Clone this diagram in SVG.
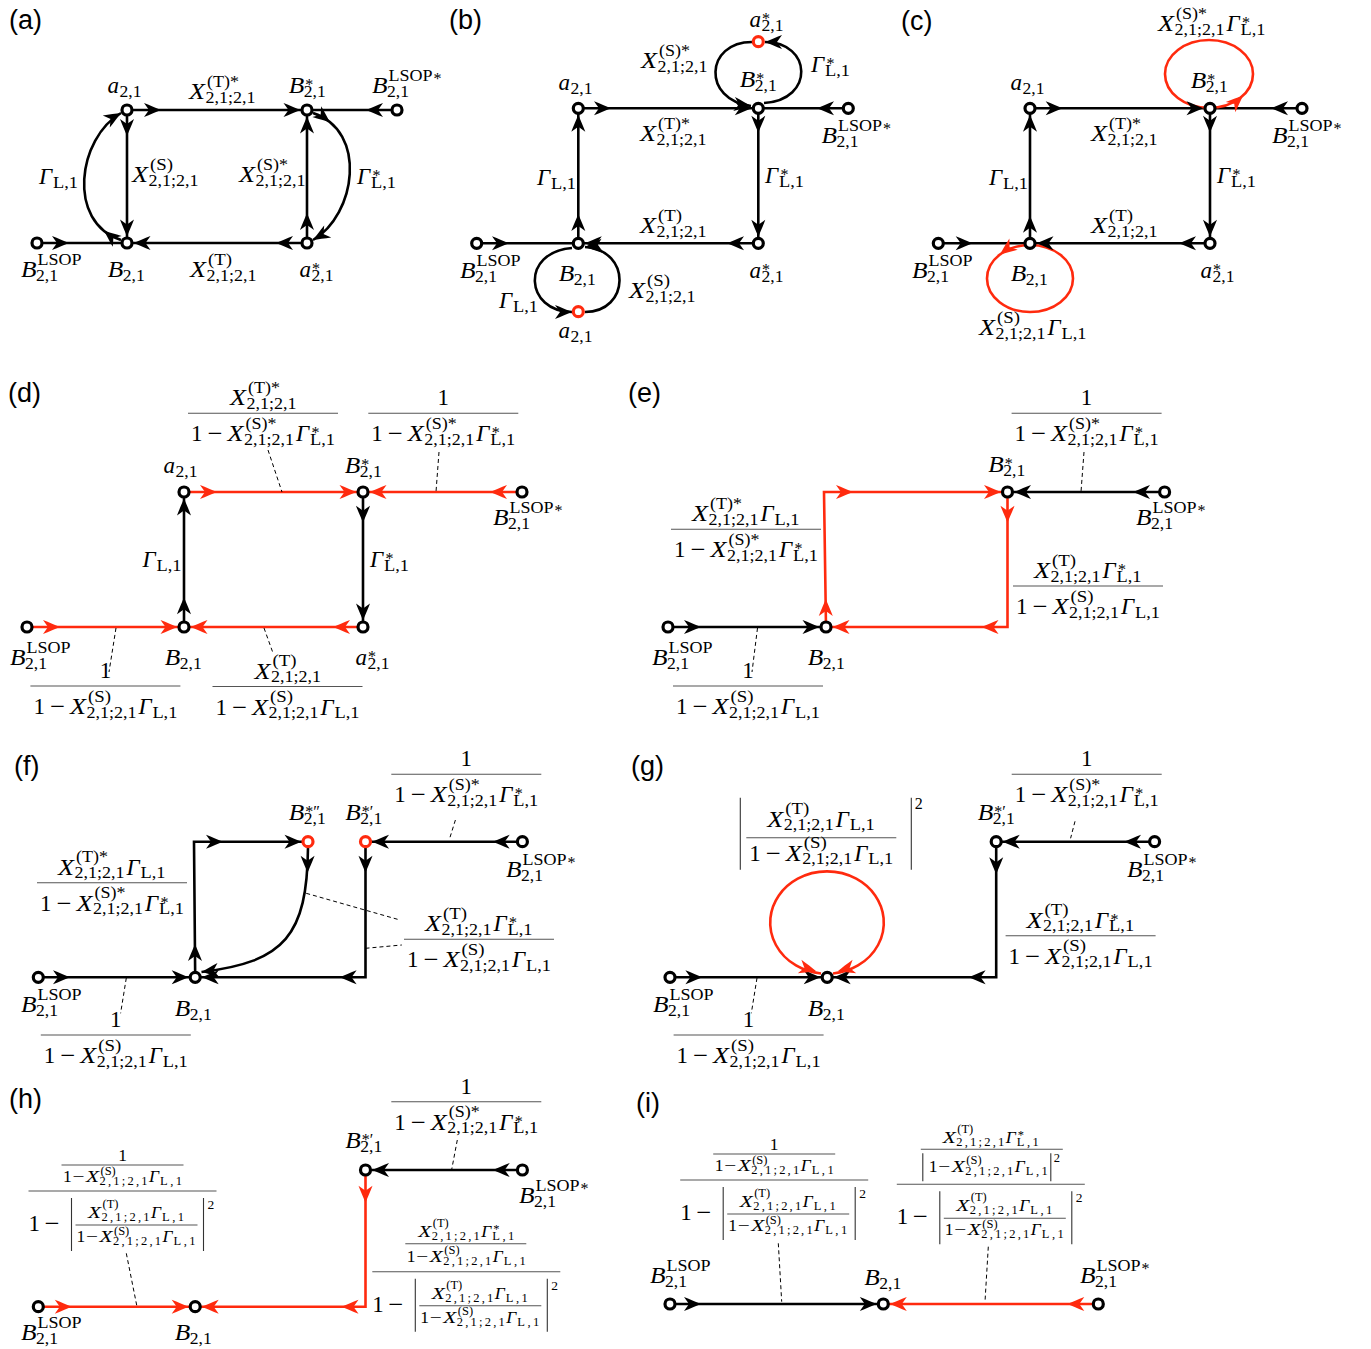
<svg xmlns="http://www.w3.org/2000/svg" width="1371" height="1349" viewBox="0 0 1371 1349">
<style>
.m{font-family:"Liberation Serif",serif;font-style:italic;font-size:23px}
.u{font-family:"Liberation Serif",serif;font-size:23px}
.s{font-family:"Liberation Serif",serif;font-size:16px}
.sm{font-family:"Liberation Serif",serif;font-style:italic;font-size:17.5px}
.su{font-family:"Liberation Serif",serif;font-size:17.5px}
.ss{font-family:"Liberation Serif",serif;font-size:12.5px}
.pl{font-family:"Liberation Sans",Arial,sans-serif;font-size:27px}
.e{fill:none;stroke:#000;stroke-width:2.6}
.er{fill:none;stroke:#ff2a0e;stroke-width:2.6}
.n{fill:#fff;stroke:#000;stroke-width:3.2}
.nr{fill:#fff;stroke:#ff2a0e;stroke-width:3.2}
.d{fill:none;stroke:#000;stroke-width:1;stroke-dasharray:4 3}
.fb{stroke:#555;stroke-width:1.1}
.ab{stroke:#333;stroke-width:1.1}
.k{fill:#000}
.r{fill:#ff2a0e}
</style>
<defs>
<path id="ah" d="M0,0 C-4.5,-1.8 -11,-4.8 -17,-7 L-12,0 L-17,7 C-11,4.8 -4.5,1.8 0,0 Z"/>
<text id="X" class="m" textLength="16" lengthAdjust="spacingAndGlyphs">X</text>
<text id="B" class="m" textLength="15.5" lengthAdjust="spacingAndGlyphs">B</text>
<text id="s4" class="s" y="3.5" textLength="50" lengthAdjust="spacingAndGlyphs">2,1;2,1</text>
<text id="s2" class="s" y="3.5" textLength="22" lengthAdjust="spacingAndGlyphs">2,1</text>
<text id="sL" class="s" y="3.5" textLength="25" lengthAdjust="spacingAndGlyphs">L,1</text>
<text id="pTs" class="s" y="-12.5" textLength="32" lengthAdjust="spacingAndGlyphs">(T)*</text>
<text id="pT" class="s" y="-12.5" textLength="24" lengthAdjust="spacingAndGlyphs">(T)</text>
<text id="pS" class="s" y="-12.5" textLength="23" lengthAdjust="spacingAndGlyphs">(S)</text>
<text id="pSs" class="s" y="-12.5" textLength="31" lengthAdjust="spacingAndGlyphs">(S)*</text>
<text id="st" class="s" y="-3">*</text>
<text id="pL" class="s" y="-12.5" textLength="44" lengthAdjust="spacingAndGlyphs">LSOP</text>
<g id="xTs"><use href="#X"/><use href="#pTs" x="18"/><use href="#s4" x="16.5"/></g>
<g id="xT"><use href="#X"/><use href="#pT" x="18"/><use href="#s4" x="16.5"/></g>
<g id="xS"><use href="#X"/><use href="#pS" x="18"/><use href="#s4" x="16.5"/></g>
<g id="xSs"><use href="#X"/><use href="#pSs" x="18"/><use href="#s4" x="16.5"/></g>
<g id="g"><text class="m">Γ</text><use href="#sL" x="14"/></g>
<g id="gs"><text class="m">Γ</text><use href="#st" x="15.5"/><use href="#sL" x="14"/></g>
<g id="la"><text class="m">a</text><use href="#s2" x="12"/></g>
<g id="las"><text class="m">a</text><use href="#st" x="12.5"/><use href="#s2" x="12"/></g>
<g id="lB"><use href="#B"/><use href="#s2" x="15"/></g>
<g id="lBs"><use href="#B"/><use href="#st" x="16.5"/><use href="#s2" x="15"/></g>
<g id="lBp"><use href="#B"/><text class="s" x="16.5" y="-3">*′</text><use href="#s2" x="15"/></g>
<g id="lBpp"><use href="#B"/><text class="s" x="16.5" y="-3">*″</text><use href="#s2" x="15"/></g>
<g id="lBL"><use href="#B"/><use href="#pL" x="16.5"/><use href="#s2" x="15"/></g>
<g id="lBLs"><use href="#B"/><use href="#pL" x="16.5"/><text class="s" x="61.5" y="-9">*</text><use href="#s2" x="15"/></g>
<g id="XSG"><use href="#xS"/><use href="#g" x="68.5"/></g>
<g id="XSsGs"><use href="#xSs"/><use href="#gs" x="68.5"/></g>
<g id="XTsG"><use href="#xTs"/><use href="#g" x="68.5"/></g>
<g id="XTGs"><use href="#xT"/><use href="#gs" x="68.5"/></g>
<g id="XTG"><use href="#xT"/><use href="#g" x="68.5"/></g>
<text id="one" class="u">1</text>
<text id="mn" class="u" textLength="15" lengthAdjust="spacingAndGlyphs">−</text>
<g id="dS"><use href="#one"/><use href="#mn" x="16.5"/><use href="#xS" x="36.5"/><use href="#g" x="105"/></g>
<g id="dSs"><use href="#one"/><use href="#mn" x="16.5"/><use href="#xSs" x="36.5"/><use href="#gs" x="105"/></g>
<g id="F1"><line class="fb" x1="-75" x2="75"/><text class="u" y="-8" text-anchor="middle">1</text><use href="#dS" x="-72" y="28"/></g>
<g id="F1s"><line class="fb" x1="-75" x2="75"/><text class="u" y="-8" text-anchor="middle">1</text><use href="#dSs" x="-72" y="28"/></g>
<g id="F2"><line class="fb" x1="-75" x2="75"/><use href="#xTs" x="-33" y="-8"/><use href="#dSs" x="-72" y="28"/></g>
<g id="F3"><line class="fb" x1="-75" x2="75"/><use href="#xT" x="-33" y="-8"/><use href="#dS" x="-72" y="28"/></g>
<g id="F4"><line class="fb" x1="-75" x2="75"/><use href="#XTsG" x="-54" y="-8"/><use href="#dSs" x="-72" y="28"/></g>
<g id="F5"><line class="fb" x1="-75" x2="75"/><use href="#XTGs" x="-54" y="-8"/><use href="#dS" x="-72" y="28"/></g>
<g id="G1"><line class="fb" x1="-75" x2="75"/><use href="#XTG" x="-54" y="-11"/><use href="#dS" x="-72" y="23"/><line class="ab" x1="-81" y1="-40" x2="-81" y2="32"/><line class="ab" x1="90" y1="-40" x2="90" y2="32"/><text class="s" x="93.5" y="-29">2</text></g>
<text id="sX" class="sm" textLength="13" lengthAdjust="spacingAndGlyphs">X</text>
<text id="ss4" class="ss" y="3" textLength="48" lengthAdjust="spacing">2,1;2,1</text>
<text id="ssL" class="ss" y="3" textLength="22" lengthAdjust="spacing">L,1</text>
<g id="sxT"><use href="#sX"/><text class="ss" x="14.5" y="-10">(T)</text><use href="#ss4" x="13.5"/></g>
<g id="sxS"><use href="#sX"/><text class="ss" x="14.5" y="-7.5">(S)</text><use href="#ss4" x="13.5"/></g>
<g id="sg"><text class="sm">Γ</text><use href="#ssL" x="11"/></g>
<g id="sgs"><text class="sm">Γ</text><text class="ss" x="12" y="-4">*</text><use href="#ssL" x="11"/></g>
<g id="sN"><use href="#sxT"/><use href="#sg" x="63"/></g>
<g id="sNs"><use href="#sxT"/><use href="#sgs" x="63"/></g>
<g id="sD"><text class="su">1</text><text class="su" x="9.5" textLength="12" lengthAdjust="spacingAndGlyphs">−</text><use href="#sxS" x="23"/><use href="#sg" x="86"/></g>
<g id="Dabs"><use href="#one" x="-94" y="40"/><use href="#mn" x="-78" y="40"/><line class="ab" x1="-51" y1="7" x2="-51" y2="60"/><use href="#sN" x="-34.5" y="27"/><line class="fb" x1="-47" y1="34" x2="75" y2="34"/><use href="#sD" x="-46" y="51"/><line class="ab" x1="81" y1="7" x2="81" y2="60"/><text class="s" x="85" y="18" style="font-size:13.5px">2</text></g>
<g id="H1"><line class="fb" x1="-94" x2="94"/><text class="su" y="-30" text-anchor="middle">1</text><line class="fb" x1="-61" y1="-26" x2="61" y2="-26"/><use href="#sD" x="-59.5" y="-9"/><use href="#Dabs"/></g>
<g id="H2"><line class="fb" x1="-94" x2="94"/><use href="#sNs" x="-48" y="-35"/><line class="fb" x1="-61" y1="-28" x2="60" y2="-28"/><use href="#sD" x="-59.5" y="-10"/><use href="#Dabs"/></g>
<g id="I2"><line class="fb" x1="-94" x2="94"/><use href="#sNs" x="-48" y="-41"/><line class="fb" x1="-70" y1="-35" x2="72" y2="-35"/><line class="ab" x1="-68" y1="-31" x2="-68" y2="-3"/><use href="#sD" x="-62" y="-12.5"/><line class="ab" x1="60" y1="-31" x2="60" y2="-3"/><text class="ss" x="63" y="-22">2</text><use href="#Dabs"/></g>
</defs>
<rect width="1371" height="1349" fill="#fff"/>
<g id="panel-labels">
<text class="pl" x="9" y="29">(a)</text>
<text class="pl" x="449" y="29">(b)</text>
<text class="pl" x="901" y="30">(c)</text>
<text class="pl" x="8" y="402">(d)</text>
<text class="pl" x="628" y="402">(e)</text>
<text class="pl" x="14" y="775">(f)</text>
<text class="pl" x="631" y="775">(g)</text>
<text class="pl" x="9" y="1108">(h)</text>
<text class="pl" x="636" y="1112">(i)</text>
</g>
<g id="connectors">
<!-- (a) -->
<path class="e" d="M37 243H127M127 110H307M397 110H307M127 110V243M307 243V110M307 243H127"/>
<path class="e" d="M121 240C66 222 78 138 121 113"/>
<path class="e" d="M313 113C368 131 356 215 313 240"/>
<use href="#ah" class="k" transform="translate(69 243)"/>
<use href="#ah" class="k" transform="translate(161 110)"/>
<use href="#ah" class="k" transform="translate(300.5 110)"/>
<use href="#ah" class="k" transform="translate(366 110) rotate(180)"/>
<use href="#ah" class="k" transform="translate(127 136) rotate(90)"/>
<use href="#ah" class="k" transform="translate(127 236.5) rotate(90)"/>
<use href="#ah" class="k" transform="translate(307 213) rotate(-90)"/>
<use href="#ah" class="k" transform="translate(307 116.5) rotate(-90)"/>
<use href="#ah" class="k" transform="translate(276 243) rotate(180)"/>
<use href="#ah" class="k" transform="translate(133.5 243) rotate(180)"/>
<use href="#ah" class="k" transform="translate(104 230.7) rotate(-141)"/>
<use href="#ah" class="k" transform="translate(121 113) rotate(-30)"/>
<use href="#ah" class="k" transform="translate(330 122.3) rotate(39)"/>
<use href="#ah" class="k" transform="translate(313 240) rotate(150)"/>
<use href="#xTs" x="189" y="99"/>
<use href="#xS" x="132" y="182"/>
<use href="#g" x="39" y="184"/>
<use href="#xSs" x="239" y="182"/>
<use href="#gs" x="357" y="184"/>
<use href="#xT" x="190" y="277"/>
<!-- (b) -->
<path class="e" d="M476.7 243.3H578.3M578.3 108.3H758.3M848.3 108.3H758.3M758.3 108.3V243.3M758.3 243.3H578.3M578.3 243.3V108.3"/>
<path class="e" d="M572 248C520 252 525 312 572 312"/>
<path class="e" d="M585 312C630 312 632 250 585 247"/>
<path class="e" d="M764 103C815 100 812 42 765 42"/>
<path class="e" d="M752 42C705 42 702 100 751 106"/>
<use href="#ah" class="k" transform="translate(509 243.3)"/>
<use href="#ah" class="k" transform="translate(611 108.3)"/>
<use href="#ah" class="k" transform="translate(751.8 108.3)"/>
<use href="#ah" class="k" transform="translate(817 108.3) rotate(180)"/>
<use href="#ah" class="k" transform="translate(758.3 132.7) rotate(90)"/>
<use href="#ah" class="k" transform="translate(758.3 236.8) rotate(90)"/>
<use href="#ah" class="k" transform="translate(727 243.3) rotate(180)"/>
<use href="#ah" class="k" transform="translate(584.8 243.3) rotate(180)"/>
<use href="#ah" class="k" transform="translate(578.3 214) rotate(-90)"/>
<use href="#ah" class="k" transform="translate(578.3 114.8) rotate(-90)"/>
<use href="#ah" class="k" transform="translate(572 312)"/>
<use href="#ah" class="k" transform="translate(585 247) rotate(176)"/>
<use href="#ah" class="k" transform="translate(765 42) rotate(180)"/>
<use href="#ah" class="k" transform="translate(751 106) rotate(7)"/>
<use href="#xSs" x="641" y="68"/>
<use href="#gs" x="811" y="72"/>
<use href="#xTs" x="640" y="141"/>
<use href="#g" x="537" y="185"/>
<use href="#gs" x="765" y="183"/>
<use href="#xT" x="640" y="233"/>
<use href="#xS" x="629" y="298"/>
<use href="#g" x="499" y="308"/>
<!-- (c) -->
<path class="e" d="M938.3 243.3H1030M1030 108.3H1210M1302 108.3H1210M1210 108.3V243.3M1210 243.3H1030M1030 243.3V108.3"/>
<ellipse class="er" cx="1209" cy="74" rx="44" ry="34"/>
<ellipse class="er" cx="1030" cy="278.5" rx="43" ry="33.5"/>
<use href="#ah" class="k" transform="translate(972.7 243.3)"/>
<use href="#ah" class="k" transform="translate(1062.7 108.3)"/>
<use href="#ah" class="k" transform="translate(1203.5 108.3)"/>
<use href="#ah" class="k" transform="translate(1271 108.3) rotate(180)"/>
<use href="#ah" class="k" transform="translate(1210 132.7) rotate(90)"/>
<use href="#ah" class="k" transform="translate(1210 236.8) rotate(90)"/>
<use href="#ah" class="k" transform="translate(1179 243.3) rotate(180)"/>
<use href="#ah" class="k" transform="translate(1036.5 243.3) rotate(180)"/>
<use href="#ah" class="k" transform="translate(1030 215.7) rotate(-90)"/>
<use href="#ah" class="k" transform="translate(1030 114.8) rotate(-90)"/>
<use href="#ah" class="r" transform="translate(1243 95.6) rotate(-43)"/>
<use href="#ah" class="r" transform="translate(1000 254.4) rotate(143)"/>
<use href="#XSsGs" x="1158" y="31"/>
<use href="#xTs" x="1091" y="141"/>
<use href="#g" x="989" y="185"/>
<use href="#gs" x="1217" y="183"/>
<use href="#xT" x="1091" y="233"/>
<use href="#XSG" x="979" y="335"/>
<!-- (d) -->
<path class="er" d="M27 627H184M184 492H363M522 492H363M363 627H184"/>
<path class="e" d="M184 627V492M363 492V627"/>
<path class="d" d="M268 450L282 492M439 452L436 492M116 628L109 672M264 628L273 653"/>
<use href="#ah" class="r" transform="translate(60 627)"/>
<use href="#ah" class="r" transform="translate(177.5 627)"/>
<use href="#ah" class="r" transform="translate(217 492)"/>
<use href="#ah" class="r" transform="translate(356.5 492)"/>
<use href="#ah" class="r" transform="translate(490 492) rotate(180)"/>
<use href="#ah" class="r" transform="translate(369.5 492) rotate(180)"/>
<use href="#ah" class="r" transform="translate(333 627) rotate(180)"/>
<use href="#ah" class="r" transform="translate(190.5 627) rotate(180)"/>
<use href="#ah" class="k" transform="translate(184 597.3) rotate(-90)"/>
<use href="#ah" class="k" transform="translate(184 498.5) rotate(-90)"/>
<use href="#ah" class="k" transform="translate(363 522.7) rotate(90)"/>
<use href="#ah" class="k" transform="translate(363 620.5) rotate(90)"/>
<use href="#g" x="142.5" y="567"/>
<use href="#gs" x="370" y="567"/>
<use href="#F2" x="263" y="413.3"/>
<use href="#F1s" x="443.3" y="413.3"/>
<use href="#F1" x="105.4" y="686"/>
<use href="#F3" x="287.5" y="686.5"/>
<!-- (e) -->
<path class="er" d="M826 627L824 492H1007.5M1007.5 492V627H826"/>
<path class="e" d="M668 627H826M1164.6 492H1007.5"/>
<path class="d" d="M1084 452L1081 492M757.5 628L752 672"/>
<use href="#ah" class="r" transform="translate(825.8 599) rotate(-90)"/>
<use href="#ah" class="r" transform="translate(853 492)"/>
<use href="#ah" class="r" transform="translate(1001 492)"/>
<use href="#ah" class="r" transform="translate(1007.5 522.7) rotate(90)"/>
<use href="#ah" class="r" transform="translate(981.5 627) rotate(180)"/>
<use href="#ah" class="r" transform="translate(832.5 627) rotate(180)"/>
<use href="#ah" class="k" transform="translate(701 627)"/>
<use href="#ah" class="k" transform="translate(819.5 627)"/>
<use href="#ah" class="k" transform="translate(1133 492) rotate(180)"/>
<use href="#ah" class="k" transform="translate(1014 492) rotate(180)"/>
<use href="#F1s" x="1086.6" y="413.3"/>
<use href="#F4" x="746" y="529.3"/>
<use href="#F5" x="1088" y="586"/>
<use href="#F1" x="748" y="686"/>
<!-- (f) -->
<path class="e" d="M38.3 977.3H195.2M195.2 977.3L194 841.7H308M522.4 841.7H365.5M365.5 841.7V977.3H195.2"/>
<path class="e" d="M308 848C307 935 285 962 201.5 972"/>
<path class="d" d="M455.4 820L449.7 838.3M306.2 893.3L400 920M365.5 948.3L401.8 945M126.3 978L120.6 1013.3"/>
<use href="#ah" class="k" transform="translate(70 977.3)"/>
<use href="#ah" class="k" transform="translate(188.7 977.3)"/>
<use href="#ah" class="k" transform="translate(195 944) rotate(-90)"/>
<use href="#ah" class="k" transform="translate(223 841.7)"/>
<use href="#ah" class="k" transform="translate(301.5 841.7)"/>
<use href="#ah" class="k" transform="translate(307.6 872.7) rotate(90)"/>
<use href="#ah" class="k" transform="translate(201.5 972) rotate(173)"/>
<use href="#ah" class="k" transform="translate(492.7 841.7) rotate(180)"/>
<use href="#ah" class="k" transform="translate(372 841.7) rotate(180)"/>
<use href="#ah" class="k" transform="translate(365.5 872.7) rotate(90)"/>
<use href="#ah" class="k" transform="translate(339.6 977.3) rotate(180)"/>
<use href="#ah" class="k" transform="translate(201.7 977.3) rotate(180)"/>
<use href="#F1s" x="466.3" y="774.3"/>
<use href="#F4" x="112" y="882.7"/>
<use href="#F5" x="479" y="939.3"/>
<use href="#F1" x="115.8" y="1035"/>
<!-- (g) -->
<path class="e" d="M670 977.3H827.2M1154.6 841.7H996.2M996.2 841.7V977.3H827.2"/>
<path class="er" d="M821 973.5A56.8 51.2 0 1 1 833 973.5"/>
<path class="d" d="M1075 821.3L1070.6 838.3M757 978L751.3 1013.3"/>
<use href="#ah" class="k" transform="translate(702.4 977.3)"/>
<use href="#ah" class="k" transform="translate(820.7 977.3)"/>
<use href="#ah" class="k" transform="translate(1124 841.7) rotate(180)"/>
<use href="#ah" class="k" transform="translate(1002.7 841.7) rotate(180)"/>
<use href="#ah" class="k" transform="translate(996.2 874.3) rotate(90)"/>
<use href="#ah" class="k" transform="translate(968.6 977.3) rotate(180)"/>
<use href="#ah" class="k" transform="translate(833.7 977.3) rotate(180)"/>
<use href="#ah" class="r" transform="translate(816 971) rotate(15)"/>
<use href="#ah" class="r" transform="translate(838 971) rotate(165)"/>
<use href="#F1s" x="1086.7" y="774.3"/>
<use href="#G1" x="821.3" y="837.7"/>
<use href="#F5" x="1080.6" y="935.7"/>
<use href="#F1" x="748.6" y="1035"/>
<!-- (h) -->
<path class="er" d="M38.3 1306.7H195.2M365.5 1170V1306.7H195.2"/>
<path class="e" d="M522.4 1170H365.5"/>
<path class="d" d="M457.3 1140L451.6 1170M126.3 1253.3L137 1306.7"/>
<use href="#ah" class="r" transform="translate(71.8 1306.7)"/>
<use href="#ah" class="r" transform="translate(188.7 1306.7)"/>
<use href="#ah" class="r" transform="translate(365.5 1202.7) rotate(90)"/>
<use href="#ah" class="r" transform="translate(341.5 1306.7) rotate(180)"/>
<use href="#ah" class="r" transform="translate(201.7 1306.7) rotate(180)"/>
<use href="#ah" class="k" transform="translate(492.7 1170) rotate(180)"/>
<use href="#ah" class="k" transform="translate(372 1170) rotate(180)"/>
<use href="#F1s" x="466.3" y="1101.7"/>
<use href="#H1" x="122.5" y="1191"/>
<use href="#H2" x="466.3" y="1271.7"/>
<!-- (i) -->
<path class="e" d="M670 1304H883.3"/>
<path class="er" d="M1098.3 1304H883.3"/>
<path class="d" d="M778.3 1243.3L781.7 1301.7M988.3 1246.7L985 1301.7"/>
<use href="#ah" class="k" transform="translate(701 1304)"/>
<use href="#ah" class="k" transform="translate(876.8 1304)"/>
<use href="#ah" class="r" transform="translate(1067.3 1304) rotate(180)"/>
<use href="#ah" class="r" transform="translate(889.8 1304) rotate(180)"/>
<use href="#H1" x="774.2" y="1180"/>
<use href="#I2" x="990.8" y="1184.3"/>
</g>
<g id="nodes">
<g id="a-LSOP"><circle class="n" cx="37" cy="243" r="5"/><use href="#lBL" x="21" y="277"/></g>
<g id="a-B"><circle class="n" cx="127" cy="243" r="5"/><use href="#lB" x="107.7" y="277"/></g>
<g id="a-a"><circle class="n" cx="127" cy="110" r="5"/><use href="#la" x="107.5" y="93"/></g>
<g id="a-Bs"><circle class="n" cx="307" cy="110" r="5"/><use href="#lBs" x="288.7" y="93"/></g>
<g id="a-as"><circle class="n" cx="307" cy="243" r="5"/><use href="#las" x="299.5" y="277"/></g>
<g id="a-LSOPs"><circle class="n" cx="397" cy="110" r="5"/><use href="#lBLs" x="372" y="93"/></g>
<g id="b-LSOP"><circle class="n" cx="476.7" cy="243.3" r="5"/><use href="#lBL" x="460" y="278"/></g>
<g id="b-B"><circle class="n" cx="578.3" cy="243.3" r="5"/><use href="#lB" x="558.7" y="281"/></g>
<g id="b-a"><circle class="n" cx="578.3" cy="108.3" r="5"/><use href="#la" x="558.5" y="90"/></g>
<g id="b-Bs"><circle class="n" cx="758.3" cy="108.3" r="5"/><use href="#lBs" x="739.7" y="87"/></g>
<g id="b-LSOPs"><circle class="n" cx="848.3" cy="108.3" r="5"/><use href="#lBLs" x="821.5" y="143"/></g>
<g id="b-as"><circle class="n" cx="758.3" cy="243.3" r="5"/><use href="#las" x="749.5" y="278"/></g>
<g id="b-a-loop"><circle class="nr" cx="578.3" cy="311.7" r="5"/><use href="#la" x="558.5" y="338"/></g>
<g id="b-as-loop"><circle class="nr" cx="758.3" cy="41.7" r="5"/><use href="#las" x="749.5" y="27"/></g>
<g id="c-LSOP"><circle class="n" cx="938.3" cy="243.3" r="5"/><use href="#lBL" x="912" y="278"/></g>
<g id="c-B"><circle class="n" cx="1030" cy="243.3" r="5"/><use href="#lB" x="1010.7" y="281"/></g>
<g id="c-a"><circle class="n" cx="1030" cy="108.3" r="5"/><use href="#la" x="1010.5" y="90"/></g>
<g id="c-Bs"><circle class="n" cx="1210" cy="108.3" r="5"/><use href="#lBs" x="1190.7" y="88"/></g>
<g id="c-as"><circle class="n" cx="1210" cy="243.3" r="5"/><use href="#las" x="1200.5" y="278"/></g>
<g id="c-LSOPs"><circle class="n" cx="1302" cy="108.3" r="5"/><use href="#lBLs" x="1272" y="143"/></g>
<g id="d-LSOP"><circle class="n" cx="27" cy="627" r="5"/><use href="#lBL" x="10" y="665"/></g>
<g id="d-B"><circle class="n" cx="184" cy="627" r="5"/><use href="#lB" x="164.7" y="665"/></g>
<g id="d-a"><circle class="n" cx="184" cy="492" r="5"/><use href="#la" x="163.5" y="473"/></g>
<g id="d-Bs"><circle class="n" cx="363" cy="492" r="5"/><use href="#lBs" x="344.7" y="473"/></g>
<g id="d-LSOPs"><circle class="n" cx="522" cy="492" r="5"/><use href="#lBLs" x="493" y="525"/></g>
<g id="d-as"><circle class="n" cx="363" cy="627" r="5"/><use href="#las" x="355.5" y="665"/></g>
<g id="e-LSOP"><circle class="n" cx="668" cy="627" r="5"/><use href="#lBL" x="652" y="665"/></g>
<g id="e-B"><circle class="n" cx="826" cy="627" r="5"/><use href="#lB" x="807.7" y="665"/></g>
<g id="e-Bs"><circle class="n" cx="1007.5" cy="492" r="5"/><use href="#lBs" x="988.2" y="472"/></g>
<g id="e-LSOPs"><circle class="n" cx="1164.6" cy="492" r="5"/><use href="#lBLs" x="1136" y="525"/></g>
<g id="f-LSOP"><circle class="n" cx="38.3" cy="977.3" r="5"/><use href="#lBL" x="21" y="1012"/></g>
<g id="f-B"><circle class="n" cx="195.2" cy="977.3" r="5"/><use href="#lB" x="174.7" y="1016"/></g>
<g id="f-Bpp"><circle class="nr" cx="308" cy="841.7" r="5"/><use href="#lBpp" x="288.7" y="820"/></g>
<g id="f-Bp"><circle class="nr" cx="365.5" cy="841.7" r="5"/><use href="#lBp" x="345.2" y="820"/></g>
<g id="f-LSOPs"><circle class="n" cx="522.4" cy="841.7" r="5"/><use href="#lBLs" x="506" y="877"/></g>
<g id="g-LSOP"><circle class="n" cx="670" cy="977.3" r="5"/><use href="#lBL" x="653" y="1012"/></g>
<g id="g-B"><circle class="n" cx="827.2" cy="977.3" r="5"/><use href="#lB" x="807.7" y="1016"/></g>
<g id="g-Bp"><circle class="n" cx="996.2" cy="841.7" r="5"/><use href="#lBp" x="977.7" y="820"/></g>
<g id="g-LSOPs"><circle class="n" cx="1154.6" cy="841.7" r="5"/><use href="#lBLs" x="1127" y="877"/></g>
<g id="h-LSOP"><circle class="n" cx="38.3" cy="1306.7" r="5"/><use href="#lBL" x="21" y="1340"/></g>
<g id="h-B"><circle class="n" cx="195.2" cy="1306.7" r="5"/><use href="#lB" x="174.7" y="1340"/></g>
<g id="h-Bp"><circle class="n" cx="365.5" cy="1170" r="5"/><use href="#lBp" x="345.2" y="1148"/></g>
<g id="h-LSOPs"><circle class="n" cx="522.4" cy="1170" r="5"/><use href="#lBLs" x="519" y="1203"/></g>
<g id="i-LSOP"><circle class="n" cx="670" cy="1304" r="5"/><use href="#lBL" x="650" y="1283"/></g>
<g id="i-B"><circle class="n" cx="883.3" cy="1304" r="5"/><use href="#lB" x="864.2" y="1285"/></g>
<g id="i-LSOPs"><circle class="n" cx="1098.3" cy="1304" r="5"/><use href="#lBLs" x="1080" y="1283"/></g>
</g>
</svg>
